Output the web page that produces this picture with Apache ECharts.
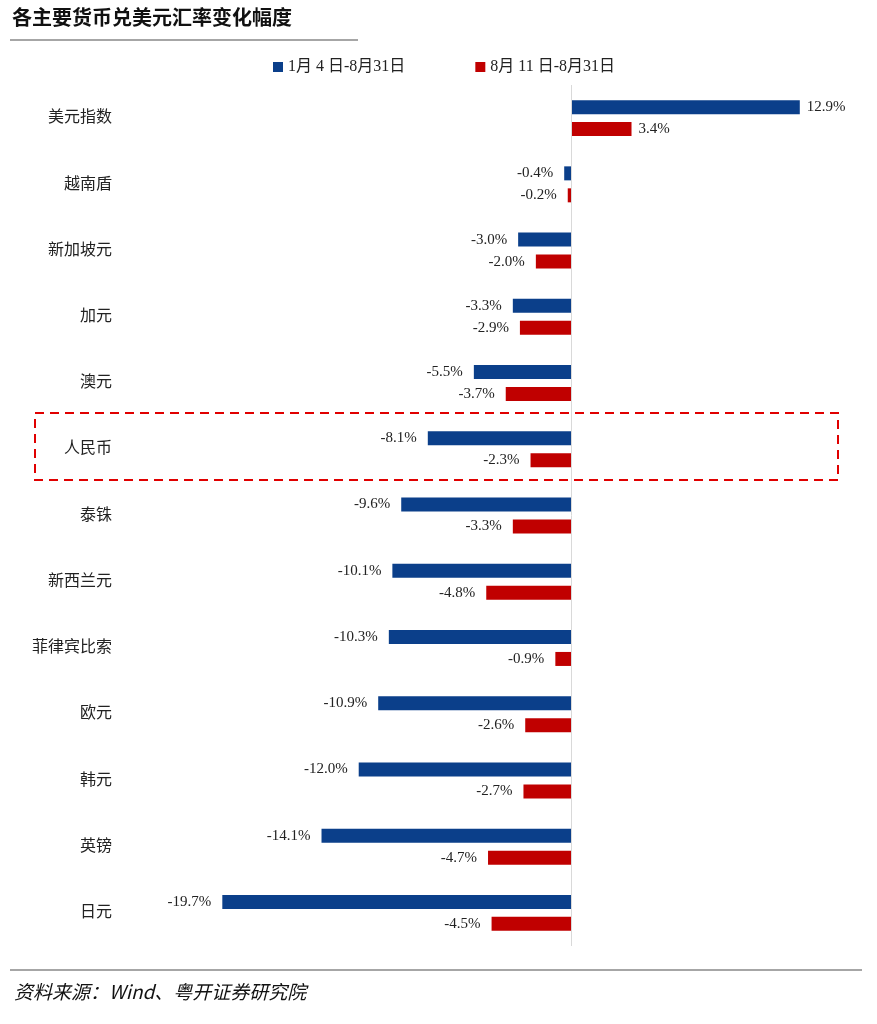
<!DOCTYPE html>
<html><head><meta charset="utf-8">
<script src="https://cdn.jsdelivr.net/npm/echarts@6/dist/echarts.min.js"></script>
<style>html,body{margin:0;padding:0;background:#fff}#c{width:877px;height:1024px}</style>
</head><body><div id="c"></div>
<script>
const categories = ['美元指数','越南盾','新加坡元','加元','澳元','人民币','泰铢','新西兰元','菲律宾比索','欧元','韩元','英镑','日元'];
const seriesNames = ['1月 4 日-8月31日','8月 11 日-8月31日'];
const ytdValues = [12.9,-0.4,-3.0,-3.3,-5.5,-8.1,-9.6,-10.1,-10.3,-10.9,-12.0,-14.1,-19.7];
const augValues = [3.4,-0.2,-2.0,-2.9,-3.7,-2.3,-3.3,-4.8,-0.9,-2.6,-2.7,-4.7,-4.5];
const colors = ['#0b3f8a','#c00000'];
const font = '"Liberation Serif","Noto Sans CJK SC",serif';
function mk(vals){return vals.map(v=>({value:v,label:{position:v<0?'left':'right',distance:v<0?11:7}}));}
const chart = echarts.init(document.getElementById('c'));
chart.setOption({
  animation:false,
  textStyle:{fontFamily:font},
  legend:{top:54,left:268,itemWidth:10,itemHeight:10,itemGap:70,icon:'rect',
    textStyle:{fontSize:16,color:'#222',fontFamily:font},data:seriesNames},
  grid:{left:217,right:40,top:85,bottom:78},
  xAxis:{type:'value',min:-20,max:15,show:false},
  yAxis:{type:'category',data:categories,inverse:true,axisLine:{show:false},axisTick:{show:false},
    axisLabel:{margin:105,fontSize:16,color:'#222',fontFamily:font}},
  series:[
    {name:seriesNames[0],type:'bar',data:mk(ytdValues),barWidth:14,barGap:'57%',itemStyle:{color:colors[0]},
     label:{show:true,formatter:p=>p.value.toFixed(1)+'%',fontSize:15,color:'#222'},
     markLine:{silent:true,symbol:'none',label:{show:false},lineStyle:{color:'#d9d9d9',type:'solid',width:1},data:[{xAxis:0}]}},
    {name:seriesNames[1],type:'bar',data:mk(augValues),barWidth:14,itemStyle:{color:colors[1]},
     label:{show:true,formatter:p=>p.value.toFixed(1)+'%',fontSize:15,color:'#222'}}
  ],
  graphic:[
    {type:'text',left:12,top:7,style:{text:'各主要货币兑美元汇率变化幅度',fontSize:20,fontWeight:'bold',fill:'#111',fontFamily:'"Noto Sans CJK SC",sans-serif'}},
    {type:'line',shape:{x1:10,y1:40,x2:358,y2:40},style:{stroke:'#888',lineWidth:1.5}},
    {type:'rect',shape:{x:35,y:413,width:803,height:67},style:{fill:'none',stroke:'#e00000',lineWidth:2,lineDash:[9,6]}},
    {type:'line',shape:{x1:10,y1:970,x2:862,y2:970},style:{stroke:'#888',lineWidth:1.5}},
    {type:'text',left:14,top:982,style:{text:'资料来源：Wind、粤开证券研究院',fontSize:19,fontStyle:'italic',fill:'#111',fontFamily:'"Noto Sans CJK SC",sans-serif'}}
  ]
});
</script></body></html>
